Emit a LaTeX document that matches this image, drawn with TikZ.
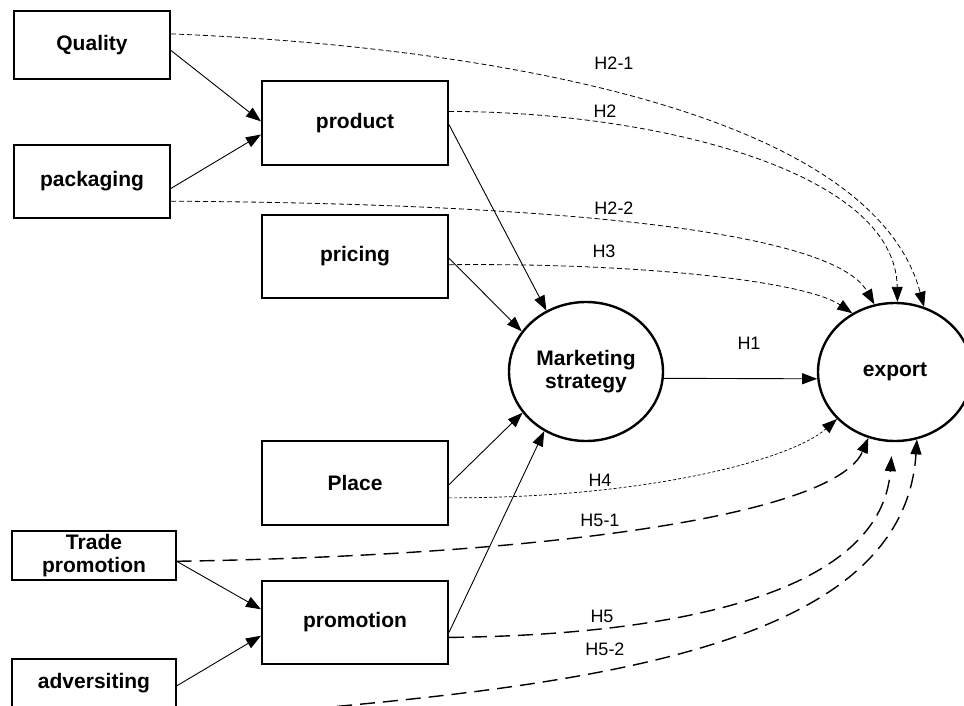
\documentclass[tikz,border=0pt]{standalone}
\usepackage{fontspec}
\setmainfont{Liberation Sans}
\usetikzlibrary{arrows.meta,shapes.geometric}

\tikzset{
  factor/.style={draw, line width=2pt, inner sep=0pt, align=center,
    font=\bfseries\fontsize{21}{23}\selectfont},
  subfactor/.style={factor, line width=1.3pt},
  construct/.style={draw, ellipse, line width=2.4pt, inner sep=0pt,
    minimum width=154pt, minimum height=139pt, align=center,
    font=\bfseries\fontsize{21}{23}\selectfont},
  effect/.style={-{Triangle[length=15pt,width=11pt]}, line width=0.9pt},
  hypo/.style={effect, line width=0.8pt, dash pattern=on 5pt off 3pt},
  hypodot/.style={effect, line width=0.7pt, dash pattern=on 3pt off 2pt},
  hypolong/.style={effect, line width=1.4pt, dash pattern=on 15pt off 8pt},
  hlabel/.style={font=\fontsize{18}{20}\selectfont, inner sep=0pt}
}

\begin{document}
\begin{tikzpicture}[x=1pt,y=-1pt]
        \clip (0,0) rectangle (964,706);
        % the 4P factors and their sub factors
        \node[factor, minimum width=156pt, minimum height=68pt] (quality) at (92,45) {Quality};
        \node[factor, minimum width=156pt, minimum height=73pt] (packaging) at (92,181.5) {packaging};
        \node[factor, minimum width=186pt, minimum height=84pt] (product) at (355,123) {product};
        \node[factor, minimum width=186pt, minimum height=83pt] (pricing) at (355,256.5) {pricing};
        \node[factor, minimum width=186pt, minimum height=84pt] (place) at (355,483) {Place};
        \node[factor, minimum width=186pt, minimum height=83pt] (promotion) at (355,622.5) {promotion};
        \node[subfactor, minimum width=164pt, minimum height=49pt] (trade) at (94,555.5) {Trade\\promotion};
        \node[subfactor, minimum width=164pt, minimum height=80pt, text height=15pt, text depth=37pt] (advert) at (94,699) {adversiting};
        \node[construct] (strategy) at (586,371.5) {Marketing\\strategy};
        \node[construct, minimum height=138pt] (export) at (895,372) {export};

        % direct paths
        \draw[effect] (quality.-4) -- (product.179);
        \draw[effect] (packaging.-5) -- (product.187);
        \draw[effect] (trade.-4) -- (promotion.172);
        \draw[effect] (advert.9) -- (promotion.188);
        \draw[effect] (product.-1) -- (strategy.123);
        \draw[effect] (pricing.-1) -- (strategy.148);
        \draw[effect] (place.-1) -- (strategy.213);
        \draw[effect] (promotion.-6) -- (strategy.235);
        \draw[effect] (strategy.-5) -- (export.185);

        % hypotheses towards export
        \draw[hypo] (quality.8) .. controls +(280,11) and +(-55,-205) .. (export.66);
        \draw[hypo] (product.7) .. controls +(202,0) and +(-2,-132) .. (export.88);
        \draw[hypo] (packaging.-14) .. controls +(330,2) and +(-45,-80) .. (export.107);
        \draw[hypo] (pricing.-5) .. controls +(192,-2) and +(-47,-32) .. (export.126);
        \draw[hypodot] (place.-9) .. controls +(202,0) and +(-45,40) .. (export.219);
        \draw[hypolong] (trade.-4) .. controls +(374,-6) and +(-33,77) .. (export.248);
        \draw[hypolong, shorten >=14pt] (promotion.-9) .. controls +(202,-2) and +(-12,159) .. (export.268);
        \draw[hypolong] (advert.-14) .. controls +(374,-29) and +(-14,221) .. (export.288);

        \node[hlabel] (h21) at (614,63) {H2-1};
        \node[hlabel] (h2) at (605,111) {H2};
        \node[hlabel] (h22) at (614,208) {H2-2};
        \node[hlabel] (h3) at (604,251) {H3};
        \node[hlabel] (h1) at (749,343) {H1};
        \node[hlabel] (h4) at (600,480) {H4};
        \node[hlabel] (h51) at (600,520) {H5-1};
        \node[hlabel] (h5) at (602,616) {H5};
        \node[hlabel] (h52) at (605,649) {H5-2};
\end{tikzpicture}
\end{document}
